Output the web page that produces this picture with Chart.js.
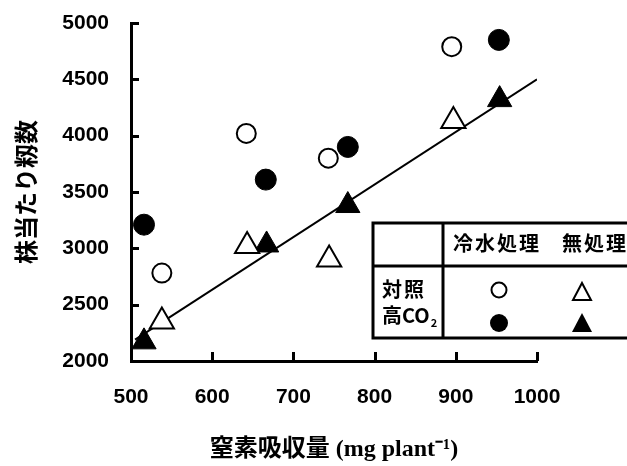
<!DOCTYPE html>
<html>
<head>
<meta charset="utf-8">
<script src="https://cdn.jsdelivr.net/npm/chart.js@4.4.1/dist/chart.umd.min.js"></script>
<style>
  body { margin: 0; background: #fff; }
  #wrap { width: 627px; height: 466px; position: relative; }
</style>
</head>
<body>
<div id="wrap"><canvas id="grafico" width="627" height="466"></canvas></div>
<script>
// datos
const xTicks = [500, 600, 700, 800, 900, 1000];
const yTicks = [2000, 2500, 3000, 3500, 4000, 4500, 5000];

// 冷水処理・対照 (círculo abierto)
const friaCtrlX = [538, 642, 743, 895];
const friaCtrlY = [2780, 4020, 3800, 4790];
// 冷水処理・高CO2 (círculo lleno)
const friaCo2X = [516, 666, 767, 953];
const friaCo2Y = [3210, 3610, 3900, 4850];
// 無処理・対照 (triángulo abierto)
const sinCtrlX = [538, 643, 744, 897];
const sinCtrlY = [2350, 3020, 2900, 4130];
// 無処理・高CO2 (triángulo lleno)
const sinCo2X = [516, 667, 767, 954];
const sinCo2Y = [2170, 3030, 3380, 4320];
// recta de regresión (extremos leídos)
const rectaX = [505, 1000];
const rectaY = [2190, 4500];

const filas = ['対照', '高CO'];
const columnas = ['冷水処理', '無処理'];

function puntos(xs, ys) {
    return xs.map((x, i) => ({ x: x, y: ys[i] }));
}

// ticks hacia dentro y tabla de leyenda
const extras = {
    id: 'extras',
    afterDraw(chart) {
        const ctx = chart.ctx;
        const xs = chart.scales.x;
        const ys = chart.scales.y;
        const area = chart.chartArea;
        ctx.save();
        ctx.strokeStyle = '#000';
        ctx.lineWidth = 3;
        ctx.beginPath();
        yTicks.slice(1).forEach(v => {
            const py = Math.round(ys.getPixelForValue(v)) + 0.5;
            ctx.moveTo(area.left, py);
            ctx.lineTo(area.left + 8, py);
        });
        xTicks.slice(1).forEach(v => {
            const px = Math.round(xs.getPixelForValue(v)) + 0.5;
            ctx.moveTo(px, area.bottom);
            ctx.lineTo(px, area.bottom - 9);
        });
        ctx.stroke();

        // tabla
        const L = 373, T = 223, M = 266, B = 338, V = 443, R = 640;
        ctx.fillStyle = '#fff';
        ctx.fillRect(L, T, R - L, B - T);
        ctx.lineWidth = 3;
        ctx.beginPath();
        ctx.moveTo(R, T); ctx.lineTo(L, T); ctx.lineTo(L, B); ctx.lineTo(R, B);
        ctx.moveTo(L, M); ctx.lineTo(R, M);
        ctx.moveTo(V, T); ctx.lineTo(V, B);
        ctx.stroke();

        ctx.fillStyle = '#000';
        ctx.font = 'bold 20px "Noto Sans CJK JP"';
        ctx.letterSpacing = '2px';
        ctx.textBaseline = 'middle';
        ctx.textAlign = 'left';
        ctx.fillText(columnas[0], 453, 243);
        ctx.fillText(columnas[1], 562, 243);
        ctx.fillText(filas[0], 382, 289);
        ctx.letterSpacing = '0px';
        ctx.fillText(filas[1], 382, 315);
        const w = ctx.measureText(filas[1]).width;
        ctx.font = 'bold 11px "Noto Sans CJK JP"';
        ctx.fillText('2', 382 + w + 1, 323);

        // símbolos
        ctx.lineWidth = 2;
        ctx.beginPath();
        ctx.arc(499, 290, 7.5, 0, Math.PI * 2);
        ctx.stroke();
        ctx.beginPath();
        ctx.arc(499, 323, 9, 0, Math.PI * 2);
        ctx.fill();
        ctx.beginPath();
        ctx.moveTo(582, 283); ctx.lineTo(591, 300); ctx.lineTo(573, 300); ctx.closePath();
        ctx.stroke();
        ctx.beginPath();
        ctx.moveTo(582, 313); ctx.lineTo(592, 332); ctx.lineTo(572, 332); ctx.closePath();
        ctx.fill();
        ctx.restore();
    }
};

const fuenteTicks = { family: '"Liberation Sans", Arial, sans-serif', size: 21, weight: 'bold' };

new Chart(document.getElementById('grafico').getContext('2d'), {
    type: 'scatter',
    data: {
        datasets: [
            {
                label: '冷水処理 対照',
                data: puntos(friaCtrlX, friaCtrlY),
                pointStyle: 'circle', pointRadius: 9.5,
                backgroundColor: '#fff', borderColor: '#000', borderWidth: 2
            },
            {
                label: '冷水処理 高CO2',
                data: puntos(friaCo2X, friaCo2Y),
                pointStyle: 'circle', pointRadius: 10.5,
                backgroundColor: '#000', borderColor: '#000', borderWidth: 1
            },
            {
                label: '無処理 対照',
                data: puntos(sinCtrlX, sinCtrlY),
                pointStyle: 'triangle', pointRadius: 14,
                backgroundColor: '#fff', borderColor: '#000', borderWidth: 2
            },
            {
                label: '無処理 高CO2',
                data: puntos(sinCo2X, sinCo2Y),
                pointStyle: 'triangle', pointRadius: 14,
                backgroundColor: '#000', borderColor: '#000', borderWidth: 1
            },
            {
                type: 'line',
                label: '回帰直線',
                data: puntos(rectaX, rectaY),
                borderColor: '#000', borderWidth: 2,
                pointRadius: 0, fill: false
            }
        ]
    },
    options: {
        responsive: false,
        animation: false,
        layout: { padding: { top: 23, right: 90, left: 0, bottom: 0 } },
        plugins: {
            legend: { display: false },
            tooltip: { enabled: false }
        },
        scales: {
            x: {
                type: 'linear',
                min: 500, max: 1000,
                afterFit: s => { s.height = 105; s.paddingLeft = 0; s.paddingRight = 0; },
                afterBuildTicks: s => { s.ticks = xTicks.map(v => ({ value: v })); },
                grid: { display: true, drawOnChartArea: false, drawTicks: false },
                border: { display: true, width: 3, color: '#000' },
                ticks: { color: '#000', font: fuenteTicks, padding: 24, callback: v => String(v) },
                title: {
                    display: true,
                    text: '窒素吸収量 (mg plant⁻¹)',
                    color: '#000',
                    font: { family: '"Liberation Serif", "Noto Sans CJK JP", serif', size: 24, weight: 'bold' },
                    padding: { top: 0, bottom: 2 }
                }
            },
            y: {
                type: 'linear',
                min: 2000, max: 5000,
                afterFit: s => { s.width = 131; s.paddingTop = 0; s.paddingBottom = 0; },
                afterBuildTicks: s => { s.ticks = yTicks.map(v => ({ value: v })); },
                grid: { display: true, drawOnChartArea: false, drawTicks: false },
                border: { display: true, width: 3, color: '#000' },
                ticks: { color: '#000', font: fuenteTicks, padding: 22, callback: v => String(v) },
                title: {
                    display: true,
                    text: '株当たり籾数',
                    color: '#000',
                    font: { family: '"Noto Sans CJK JP", sans-serif', size: 24, weight: 'bold' },
                    padding: { top: 11, bottom: 0 }
                }
            }
        }
    },
    plugins: [extras]
});
</script>
</body>
</html>
